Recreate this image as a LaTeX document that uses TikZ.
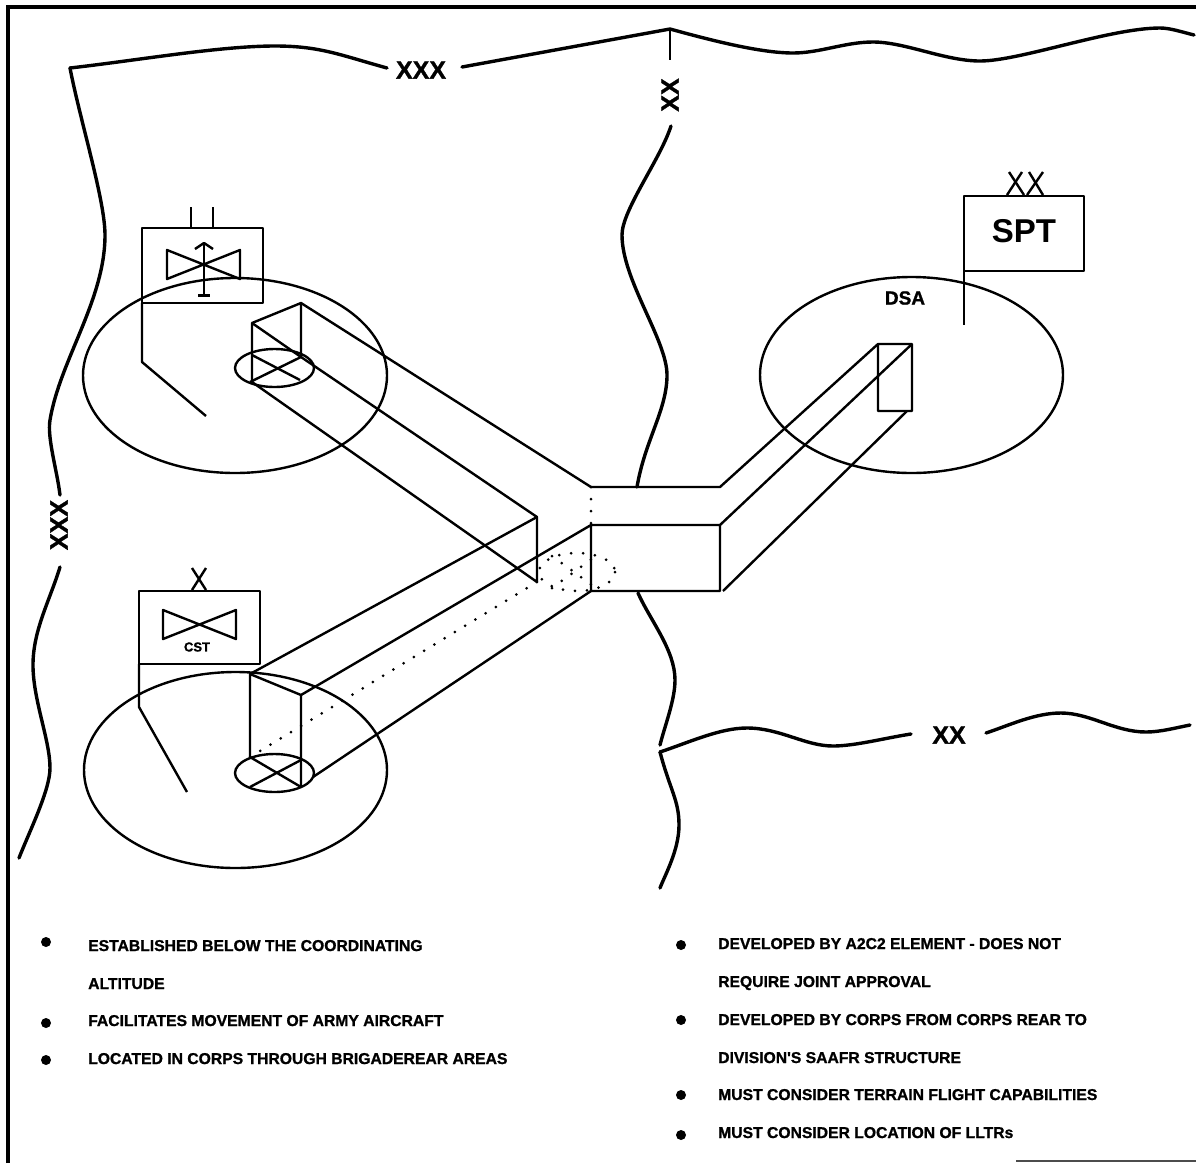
\documentclass[tikz,border=0pt]{standalone}
\usepackage{fontspec}
\setmainfont{Liberation Sans}
\newfontfamily\heavyfont[UprightFont=* Bold,FakeBold=1.2]{Liberation Sans}
\usetikzlibrary{positioning}
\tikzset{
  frameline/.style={line width=4pt},
  boundary/.style={line width=3.4pt,line cap=round,line join=round},
  boxline/.style={line width=2.4pt,line join=round},
  dotline/.style={line width=3pt,line cap=round,dash pattern=on 0pt off 12pt},
  echelon/.style={font=\heavyfont\fontsize{25}{25}\selectfont,inner sep=0pt},
  bullettext/.style={font=\heavyfont\fontsize{15.7}{18}\selectfont,anchor=base west,inner sep=0pt},
  bulletdot/.style={circle,fill=black,inner sep=0pt,minimum size=10pt}
}
\begin{document}
\begin{tikzpicture}[x=1pt,y=-1pt]
\useasboundingbox (0,0) rectangle (1196,1163);
\draw[frameline] (8,1163)--(8,7)--(1196,7);
\draw[line width=1.5pt,black!70] (1016,1161)--(1196,1161);
\node[echelon] (xxxtop) at (421,70) {XXX};
\node[echelon,rotate=90] (xxxleft) at (59,525) {XXX};
\node[echelon,rotate=90] (xxmid) at (670,95) {XX};
\node[echelon] (xxright) at (949,735) {XX};
\coordinate (topleft) at (70,68);
\coordinate (topmid) at (670,29);
\coordinate (lowmid) at (660,752);
\draw[boundary] (387,68) .. controls (340,55) and (320,46) .. (275,46) .. controls (220,46) and (140,60) .. (topleft);
\draw[boundary] (topleft) .. controls (80,120) and (105,200) .. (105,235) .. controls (105,300) and (60,360) .. (50,420) .. controls (47,438) and (57,470) .. (60,495);
\draw[boundary] (60,567) .. controls (50,600) and (33,630) .. (33,665) .. controls (33,700) and (50,740) .. (50,768) .. controls (50,790) and (30,830) .. (19,858);
\draw[boundary] (462,67) -- (topmid) .. controls (710,40) and (760,53) .. (793,53) .. controls (820,53) and (845,42) .. (873,42) .. controls (905,42) and (945,61) .. (980,61) .. controls (1020,61) and (1110,28) .. (1160,28) .. controls (1170,28) and (1182,32) .. (1194,35);
\draw[boxline] (topmid)--(670,60);
\draw[boundary] (671,126) .. controls (660,160) and (622,210) .. (622,235) .. controls (622,280) and (667,340) .. (667,375) .. controls (667,410) and (645,440) .. (637,487);
\draw[boundary] (638,593) .. controls (650,620) and (675,650) .. (675,680) .. controls (675,700) and (665,725) .. (660,745);
\draw[boundary] (lowmid) .. controls (670,790) and (679,800) .. (679,825) .. controls (679,850) and (665,875) .. (660,888);
\draw[boundary] (lowmid) .. controls (690,742) and (720,728) .. (747,728) .. controls (780,728) and (805,746) .. (833,746) .. controls (855,746) and (885,738) .. (911,734);
\draw[boundary] (986,733) .. controls (1010,725) and (1035,713) .. (1061,713) .. controls (1090,713) and (1115,732) .. (1146,732) .. controls (1160,732) and (1175,728) .. (1190,725);
\draw[boxline] (235,375.5) ellipse (152 and 97.5);
\draw[boxline] (235.5,770) ellipse (151.5 and 98);
\draw[boxline] (911.5,375) ellipse (151.5 and 98);
\draw[boxline] (274.5,368) ellipse (39.5 and 19);
\draw[boxline] (274.5,773) ellipse (39.5 and 19);
\draw[dotline] (577,572) ellipse (38 and 19);
\draw[dotline] (552,556)--(596,588);
\draw[dotline] (552,588)--(596,556);
\coordinate (a1) at (252,323);
\coordinate (a2) at (301,303);
\coordinate (a3) at (301,357);
\coordinate (a4) at (252,382);
\coordinate (b1) at (250,674);
\coordinate (b2) at (301,695);
\coordinate (b3) at (301,787);
\coordinate (b4) at (250,757);
\coordinate (c1) at (591,525);
\coordinate (c2) at (720,525);
\coordinate (c3) at (720,591);
\coordinate (c4) at (591,591);
\coordinate (c5) at (591,487);
\coordinate (c6) at (720,487);
\coordinate (d1) at (537,517);
\coordinate (d2) at (537,582);
\coordinate (e1) at (878,344);
\coordinate (e2) at (912,344);
\coordinate (e3) at (912,411);
\coordinate (e4) at (878,411);
\draw[boxline] (a4)--(a1)--(a2)--(a3);
\draw[boxline] (a1)--(a3);
\draw[boxline] (a2)--(c5)--(c6)--(e1)--(e2)--(e3)--(e4)--(e1);
\draw[boxline] (a3)--(d1)--(d2)--(a4);
\draw[boxline] (252,355)--(300,380);
\draw[boxline] (250,382)--(a3);
\draw[boxline] (b4)--(b1)--(b2)--(b3);
\draw[boxline] (b1)--(d1);
\draw[boxline] (b2)--(c1)--(c2)--(c3)--(c4)--(c1);
\draw[boxline] (313,777)--(c4);
\draw[boxline] (c2)--(e2);
\draw[boxline] (723,591)--(907,411);
\draw[boxline] (b4)--(b3);
\draw[boxline] (250,787)--(301,760);
\draw[dotline] (c5)--(c1);
\draw[dotline] (b4)--(d2);
\draw[boxline] (142,228) rectangle (263,303);
\draw[boxline] (142,303)--(142,362)--(206,416);
\draw[boxline] (191,207)--(191,228);
\draw[boxline] (213,207)--(213,228);
\draw[boxline] (167,250)--(240,279)--(240,250)--(167,279)--cycle;
\draw[boxline] (204,243)--(204,295);
\draw[boxline] (195,249)--(204,243)--(213,249);
\draw[line width=3pt] (198,295)--(210,295);
\draw[boxline] (139,591) rectangle (260,664);
\draw[boxline] (139,664)--(139,707)--(187,792);
\draw[boxline] (192,568)--(206,590);
\draw[boxline] (206,568)--(192,590);
\draw[boxline] (163,610)--(236,639)--(236,610)--(163,639)--cycle;
\node[font=\heavyfont\fontsize{13}{13}\selectfont,inner sep=0pt] (cst) at (197,647) {CST};
\draw[boxline] (964,196) rectangle (1084,271);
\draw[boxline] (964,271)--(964,325);
\draw[boxline] (1009,172)--(1024,195);
\draw[boxline] (1022,172)--(1007,195);
\draw[boxline] (1029,172)--(1043,195);
\draw[boxline] (1043,172)--(1027,195);
\node[font=\bfseries\fontsize{33}{33}\selectfont,inner sep=0pt] (spt) at (1024,231) {SPT};
\node[font=\heavyfont\fontsize{19}{19}\selectfont,inner sep=0pt] (dsa) at (905,298) {DSA};
\node[bulletdot] (bl1) at (46,942) {};
\node[bulletdot] (bl2) at (46,1023) {};
\node[bulletdot] (bl3) at (46,1060) {};
\node[bullettext] (tl1) at (88,951) {ESTABLISHED BELOW THE COORDINATING};
\node[bullettext] (tl2) at (88,989) {ALTITUDE};
\node[bullettext] (tl3) at (88,1026) {FACILITATES MOVEMENT OF ARMY AIRCRAFT};
\node[bullettext] (tl4) at (88,1064) {LOCATED IN CORPS THROUGH BRIGADEREAR AREAS};
\node[bulletdot] (br1) at (681,945) {};
\node[bulletdot] (br2) at (681,1020) {};
\node[bulletdot] (br3) at (681,1095) {};
\node[bulletdot] (br4) at (681,1135) {};
\node[bullettext] (tr1) at (718,949) {DEVELOPED BY A2C2 ELEMENT - DOES NOT};
\node[bullettext] (tr2) at (718,987) {REQUIRE JOINT APPROVAL};
\node[bullettext] (tr3) at (718,1025) {DEVELOPED BY CORPS FROM CORPS REAR TO};
\node[bullettext] (tr4) at (718,1063) {DIVISION'S SAAFR STRUCTURE};
\node[bullettext] (tr5) at (718,1100) {MUST CONSIDER TERRAIN FLIGHT CAPABILITIES};
\node[bullettext] (tr6) at (718,1138) {MUST CONSIDER LOCATION OF LLTRs};
\end{tikzpicture}
\end{document}
